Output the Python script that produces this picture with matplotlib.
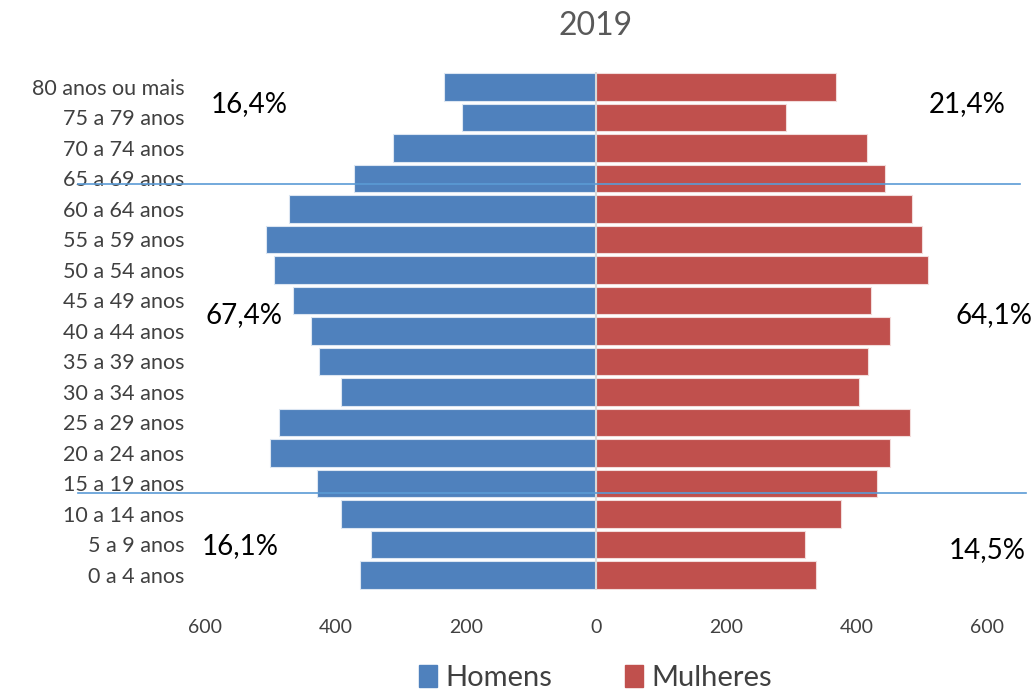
import matplotlib.pyplot as plt
from matplotlib.lines import Line2D
from matplotlib.patches import Patch

faixas = ["0 a 4 anos", "5 a 9 anos", "10 a 14 anos", "15 a 19 anos", "20 a 24 anos",
          "25 a 29 anos", "30 a 34 anos", "35 a 39 anos", "40 a 44 anos", "45 a 49 anos",
          "50 a 54 anos", "55 a 59 anos", "60 a 64 anos", "65 a 69 anos", "70 a 74 anos",
          "75 a 79 anos", "80 anos ou mais"]
homens = [363, 346, 392, 429, 500, 486, 392, 425, 438, 465, 495, 506, 471, 372, 312, 206, 234]
mulheres = [337, 320, 375, 431, 451, 482, 403, 417, 451, 422, 509, 500, 485, 443, 415, 291, 368]

pct_esq = ["16,4%", "67,4%", "16,1%"]
pct_dir = ["21,4%", "64,1%", "14,5%"]

plt.rcParams['font.family'] = ['Lato', 'DejaVu Sans']

fig = plt.figure(figsize=(10.36, 6.95), dpi=100)
ax = fig.add_axes([0.198, 0.151, 0.755, 0.746])

y = list(range(len(faixas)))
azul = '#4F81BD'
verm = '#C0504D'
ax.barh(y, [-h for h in homens], height=0.9, color=azul, edgecolor='#dce6f2', linewidth=0.8)
ax.barh(y, mulheres, height=0.9, color=verm, edgecolor='#f2dcdb', linewidth=0.8)
ax.axvline(0, color='#d9d9d9', linewidth=1.5)

ax.set_xlim(-600, 600)
ax.set_ylim(-0.5, len(faixas) - 0.5)
ax.set_yticks(y)
ax.set_yticklabels(faixas, fontsize=15.5, color='#404040')
ticks = [-600, -400, -200, 0, 200, 400, 600]
ax.set_xticks(ticks)
ax.set_xticklabels([str(abs(t)) for t in ticks], fontsize=14, color='#404040')
ax.tick_params(length=0, axis='x', pad=21)
ax.tick_params(length=0, axis='y', pad=15)
for s in ax.spines.values():
    s.set_visible(False)

fig.text(0.575, 0.962, "2019", ha='center', va='center', fontsize=23, color='#595959')

# percentuais por grupo etario
for txt, (xf, yf) in zip(pct_esq, [(0.241, 0.851), (0.236, 0.547), (0.232, 0.214)]):
    fig.text(xf, yf, txt, ha='center', va='center', fontsize=20, color='black')
for txt, (xf, yf) in zip(pct_dir, [(0.934, 0.851), (0.959, 0.547), (0.953, 0.208)]):
    fig.text(xf, yf, txt, ha='center', va='center', fontsize=20, color='black')

# linhas separando os grupos
fig.add_artist(Line2D([0.075, 0.985], [1 - 184 / 695, 1 - 184 / 695], color='#5B9BD5', linewidth=1.2))
fig.add_artist(Line2D([0.075, 0.99], [1 - 493 / 695, 1 - 493 / 695], color='#5B9BD5', linewidth=1.2))

handles = [Patch(color=azul, label='Homens'), Patch(color=verm, label='Mulheres')]
fig.legend(handles=handles, loc='center', bbox_to_anchor=(0.575, 0.024), ncol=2, frameon=False,
           fontsize=21, handlelength=0.6, handleheight=0.8, handletextpad=0.3, columnspacing=2.5,
           labelcolor='#404040')

fig.savefig('out.png', dpi=100)
